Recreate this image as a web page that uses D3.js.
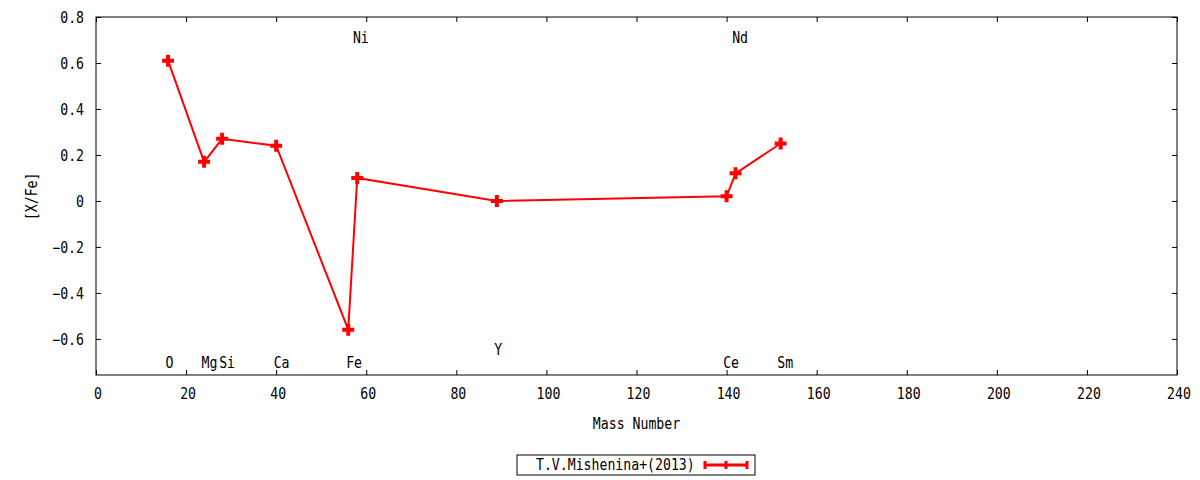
<!DOCTYPE html>
<html>
<head>
<meta charset="utf-8">
<script src="https://cdn.jsdelivr.net/npm/d3@7"></script>
<style>
  body { margin: 0; background: #fff; }
  text { font-family: "DejaVu Sans Mono", monospace; font-size: 15px; fill: #000; }
</style>
</head>
<body>
<div class="chart"></div>
<script>
// data
const elements = ['O', 'Mg', 'Si', 'Ca', 'Fe', 'Ni', 'Y', 'Ce', 'Nd', 'Sm'];
const massNumbers = [16, 24, 28, 40, 56, 58, 89, 140, 142, 152];
const xFe = [0.61, 0.17, 0.27, 0.24, -0.56, 0.10, 0.00, 0.02, 0.12, 0.25];
// where each element name sits, in plot units (mass number, [X/Fe])
const labelX = [16.3, 25.2, 29.1, 41.2, 57.3, 58.8, 89.3, 141, 143, 153];
const labelY = [-0.705, -0.705, -0.705, -0.705, -0.705, 0.71, -0.645, -0.705, 0.71, -0.705];
const xTicks = [0, 20, 40, 60, 80, 100, 120, 140, 160, 180, 200, 220, 240];
const yTicks = [-0.6, -0.4, -0.2, 0, 0.2, 0.4, 0.6, 0.8];
const seriesName = 'T.V.Mishenina+(2013)';

const margin = { top: 17, right: 23, bottom: 105, left: 96 };
const width = 1200 - margin.left - margin.right;
const height = 480 - margin.top - margin.bottom;
const red = '#ff0000';
const squeeze = 0.88; // gnuplot font is tall and narrow

const svg = d3.select('.chart')
  .append('svg')
  .attr('width', 1200)
  .attr('height', 480)
  .append('g')
  .attr('transform', `translate(${margin.left}, ${margin.top})`);

const xScale = d3.scaleLinear().domain([0, 240]).range([0, width]);
const yScale = d3.scaleLinear().domain([-0.757, 0.8]).range([height, 0]);

const tickFmt = d => d === 0 ? '0' : d3.format('.1f')(d);

// narrow text placed at (x, y)
function label(parent, x, y, str, anchor) {
  return parent.append('text')
    .attr('transform', `translate(${x}, ${y}) scale(${squeeze}, 1)`)
    .attr('dy', '0.35em')
    .attr('text-anchor', anchor || 'middle')
    .text(str);
}

// ticks go inward, mirrored on all four sides
const xAxisG = svg.append('g')
  .attr('transform', `translate(0, ${height})`)
  .call(d3.axisBottom(xScale).tickValues(xTicks).tickSize(-5).tickFormat(''));

xAxisG.selectAll('.tick').each(function (d) {
  label(d3.select(this), 1.5, 19, d);
});

svg.append('g')
  .call(d3.axisTop(xScale).tickValues(xTicks).tickSize(-5).tickFormat(''));

const yAxisG = svg.append('g')
  .call(d3.axisLeft(yScale).tickValues(yTicks).tickSize(-5).tickFormat(''));

yAxisG.selectAll('.tick').each(function (d) {
  label(d3.select(this), -12, 0.5, tickFmt(d), 'end');
});

svg.append('g')
  .attr('transform', `translate(${width}, 0)`)
  .call(d3.axisRight(yScale).tickValues(yTicks).tickSize(-5).tickFormat(''));

svg.selectAll('.domain').remove();
svg.selectAll('.tick line').attr('stroke', '#000');

svg.append('rect')
  .attr('width', width)
  .attr('height', height)
  .attr('fill', 'none')
  .attr('stroke', '#000')
  .attr('stroke-width', 1);

// axis titles
label(svg, width / 2, height + 49, 'Mass Number');

svg.append('text')
  .attr('transform', `translate(${-64}, ${yScale(0.02)}) rotate(-90) scale(${squeeze}, 1)`)
  .attr('dy', '0.35em')
  .attr('text-anchor', 'middle')
  .text('[X/Fe]');

// element name labels
elements.forEach((el, i) => {
  label(svg, xScale(labelX[i]), yScale(labelY[i]), el);
});

// series line
const pts = massNumbers.map((m, i) => [m, xFe[i]]);
const line = d3.line().x(d => xScale(d[0])).y(d => yScale(d[1]));

svg.append('path')
  .datum(pts)
  .attr('d', line)
  .attr('fill', 'none')
  .attr('stroke', red)
  .attr('stroke-width', 2);

// plus-shaped markers
const plus = d3.symbol().type(d3.symbolCross).size(80);
svg.selectAll('.pt')
  .data(pts)
  .enter()
  .append('path')
  .attr('class', 'pt')
  .attr('d', plus)
  .attr('transform', d => `translate(${xScale(d[0])}, ${yScale(d[1])})`)
  .attr('fill', red);

// legend
const lg = svg.append('g').attr('transform', `translate(${517 - margin.left}, ${455 - margin.top})`);
lg.append('rect')
  .attr('width', 238)
  .attr('height', 20)
  .attr('fill', '#fff')
  .attr('stroke', '#000');
label(lg, 19, 10, seriesName, 'start');
lg.append('line')
  .attr('x1', 188).attr('x2', 230)
  .attr('y1', 10).attr('y2', 10)
  .attr('stroke', red).attr('stroke-width', 3);
[188, 209, 230].forEach(x => {
  lg.append('line')
    .attr('x1', x).attr('x2', x)
    .attr('y1', 6).attr('y2', 14)
    .attr('stroke', red).attr('stroke-width', 3);
});
</script>
</body>
</html>
